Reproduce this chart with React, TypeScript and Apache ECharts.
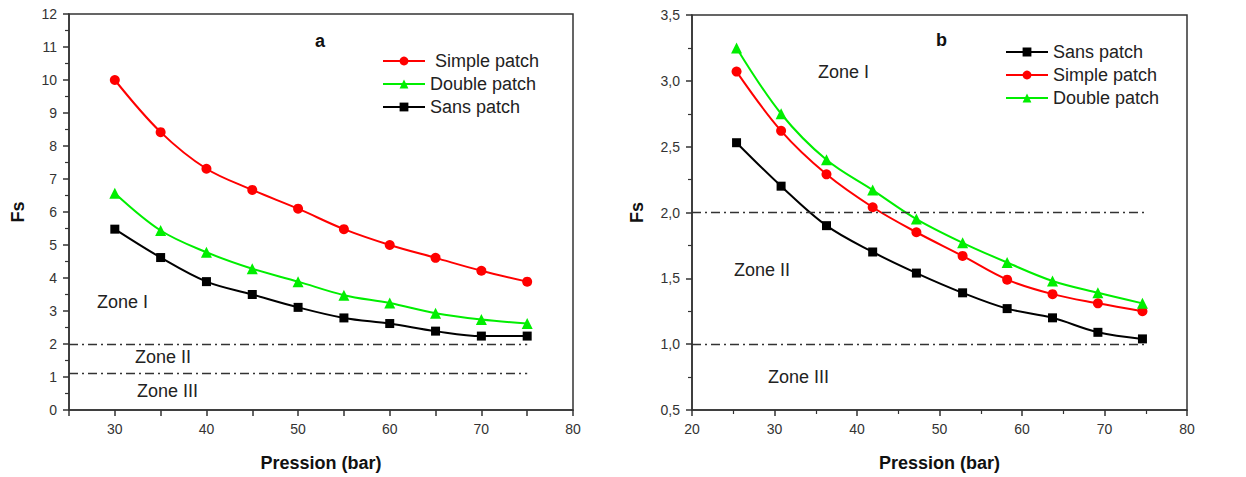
import React, { useEffect, useRef } from "react";
import * as echarts from "echarts";

// ---------- data ----------
const pressureA = [30, 35, 40, 45, 50, 55, 60, 65, 70, 75];
const simpleA = [10.0, 8.42, 7.31, 6.67, 6.1, 5.48, 5.0, 4.61, 4.22, 3.89];
const doubleA = [6.57, 5.44, 4.78, 4.28, 3.89, 3.48, 3.24, 2.93, 2.74, 2.62];
const sansA = [5.48, 4.62, 3.89, 3.5, 3.11, 2.79, 2.62, 2.39, 2.24, 2.24];

const pressureB = [25.4, 30.8, 36.3, 41.9, 47.2, 52.8, 58.2, 63.7, 69.2, 74.6];
const sansB = [2.53, 2.2, 1.9, 1.7, 1.54, 1.39, 1.27, 1.2, 1.09, 1.04];
const simpleB = [3.07, 2.62, 2.29, 2.04, 1.85, 1.67, 1.49, 1.38, 1.31, 1.25];
const doubleB = [3.25, 2.75, 2.4, 2.17, 1.95, 1.77, 1.62, 1.48, 1.39, 1.31];

const zoneLinesA = [2, 1.1];
const zoneLinesB = [2, 1];
const zoneLineRangeA = [25, 75];
const zoneLineRangeB = [20, 75];

const xLabelsA = [30, 40, 50, 60, 70, 80];
const xTicksA = [25, 30, 35, 40, 45, 50, 55, 60, 65, 70, 75, 80];

const legendA = [" Simple patch", "Double patch", "Sans patch"];
const legendB = ["Sans patch", "Simple patch", "Double patch"];

const RED = "#ff0000";
const GREEN = "#00ee00";
const BLACK = "#000000";
const AXIS = "#333333";
const FONT = "'Liberation Sans', Arial, sans-serif";

const zip = (xs: number[], ys: number[]) => xs.map((x, i) => [x, ys[i]]);

export default function App() {
  const ref = useRef<HTMLDivElement>(null);
  useEffect(() => {
    if (!ref.current) return;
    const chart = echarts.init(ref.current, null, { renderer: "svg" });

    const axisCommon = {
      axisLine: { show: true, onZero: false, lineStyle: { color: AXIS, width: 1.5 } },
      axisTick: { show: true, inside: false, length: 6, lineStyle: { color: AXIS, width: 1.5 } },
      minorTick: { show: true, splitNumber: 2, length: 4, lineStyle: { color: AXIS, width: 1.2 } },
      splitLine: { show: false },
      axisLabel: { color: "#333", fontSize: 14, fontFamily: FONT, margin: 12 },
      nameTextStyle: { color: "#111", fontSize: 18, fontWeight: "bold", fontFamily: FONT },
    };

    const lineSeries = (
      name: string,
      xs: number[],
      ys: number[],
      color: string,
      symbol: string,
      size: number,
      idx: number
    ) => ({
      type: "line",
      name,
      xAxisIndex: idx,
      yAxisIndex: idx,
      data: zip(xs, ys),
      smooth: 0.35,
      symbol,
      symbolSize: size,
      showAllSymbol: true,
      lineStyle: { color, width: 2 },
      itemStyle: { color },
      z: 3,
    });

    const zoneMark = (levels: number[], range: number[]) => ({
      symbol: "none",
      silent: true,
      label: { show: false },
      lineStyle: { color: "#333", type: [9, 4, 2, 4], width: 1.3 },
      data: levels.map((v) => [{ coord: [range[0], v] }, { coord: [range[1], v] }]),
    });

    const option: any = {
      animation: false,
      backgroundColor: "#fff",
      textStyle: { fontFamily: FONT },
      grid: [
        { left: 69, top: 14, width: 504, height: 398, show: true, borderColor: AXIS, borderWidth: 1.5 },
        { left: 692, top: 15, width: 495, height: 395, show: true, borderColor: AXIS, borderWidth: 1.5 },
      ],
      xAxis: [
        {
          ...axisCommon,
          type: "value",
          gridIndex: 0,
          min: 25,
          max: 80,
          axisTick: { ...axisCommon.axisTick, customValues: xTicksA },
          axisLabel: { ...axisCommon.axisLabel, customValues: xLabelsA },
          minorTick: { show: false },
          name: "Pression (bar)",
          nameLocation: "middle",
          nameGap: 44,
        },
        {
          ...axisCommon,
          type: "value",
          gridIndex: 1,
          min: 20,
          max: 80,
          interval: 10,
          name: "Pression (bar)",
          nameLocation: "middle",
          nameGap: 44,
        },
      ],
      yAxis: [
        {
          ...axisCommon,
          type: "value",
          gridIndex: 0,
          min: 0,
          max: 12,
          interval: 1,
          name: "Fs",
          nameLocation: "middle",
          nameRotate: 90,
          nameGap: 42,
        },
        {
          ...axisCommon,
          type: "value",
          gridIndex: 1,
          min: 0.5,
          max: 3.5,
          interval: 0.5,
          axisLabel: {
            ...axisCommon.axisLabel,
            formatter: (v: number) => v.toFixed(1).replace(".", ","),
          },
          name: "Fs",
          nameLocation: "middle",
          nameRotate: 90,
          nameGap: 46,
        },
      ],
      legend: [
        {
          data: legendA,
          left: 377,
          top: 47,
          orient: "vertical",
          itemWidth: 42,
          itemHeight: 11,
          itemGap: 5,
          textStyle: { fontSize: 18, color: "#222", fontFamily: FONT },
          selectedMode: false,
        },
        {
          data: legendB,
          left: 1000,
          top: 38,
          orient: "vertical",
          itemWidth: 42,
          itemHeight: 11,
          itemGap: 5,
          textStyle: { fontSize: 18, color: "#222", fontFamily: FONT },
          selectedMode: false,
        },
      ],
      graphic: [
        { type: "text", left: 315, top: 32, style: { text: "a", fontSize: 18, fontWeight: "bold", fill: "#111", fontFamily: FONT } },
        { type: "text", left: 936, top: 31, style: { text: "b", fontSize: 18, fontWeight: "bold", fill: "#111", fontFamily: FONT } },
        { type: "text", left: 97, top: 293, style: { text: "Zone I", fontSize: 18, fill: "#222", fontFamily: FONT } },
        { type: "text", left: 135, top: 348, style: { text: "Zone II", fontSize: 18, fill: "#222", fontFamily: FONT } },
        { type: "text", left: 137, top: 382, style: { text: "Zone III", fontSize: 18, fill: "#222", fontFamily: FONT } },
        { type: "text", left: 818, top: 63, style: { text: "Zone I", fontSize: 18, fill: "#222", fontFamily: FONT } },
        { type: "text", left: 734, top: 261, style: { text: "Zone II", fontSize: 18, fill: "#222", fontFamily: FONT } },
        { type: "text", left: 768, top: 368, style: { text: "Zone III", fontSize: 18, fill: "#222", fontFamily: FONT } },
      ],
      series: [
        lineSeries(" Simple patch", pressureA, simpleA, RED, "circle", 10, 0),
        lineSeries("Double patch", pressureA, doubleA, GREEN, "triangle", 11, 0),
        { ...lineSeries("Sans patch", pressureA, sansA, BLACK, "rect", 9, 0), markLine: zoneMark(zoneLinesA, zoneLineRangeA) },
        { ...lineSeries("Sans patch", pressureB, sansB, BLACK, "rect", 9, 1), markLine: zoneMark(zoneLinesB, zoneLineRangeB) },
        lineSeries("Simple patch", pressureB, simpleB, RED, "circle", 10, 1),
        lineSeries("Double patch", pressureB, doubleB, GREEN, "triangle", 11, 1),
      ],
    };
    chart.setOption(option);
    return () => chart.dispose();
  }, []);
  return (
    <div
      ref={ref}
      style={{ position: "absolute", left: 0, top: 0, width: 1246, height: 477, background: "#fff" }}
    />
  );
}
